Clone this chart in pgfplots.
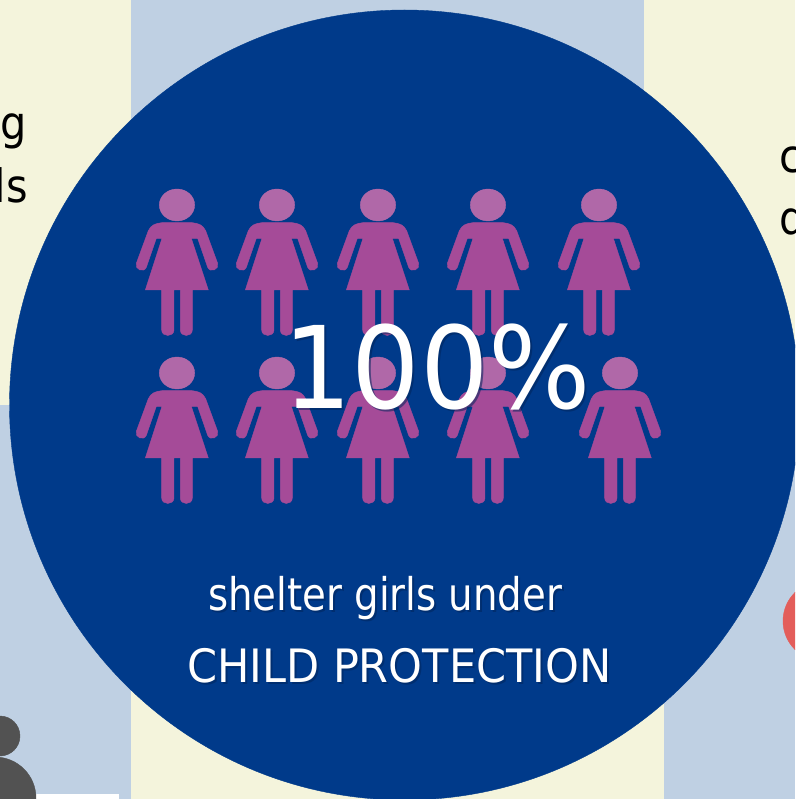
\documentclass[border=0pt]{standalone}
\usepackage{fontspec}
\usepackage{pgfplots}
\pgfplotsset{compat=1.18}
\setmainfont{DejaVu Sans Condensed}
\definecolor{bgcream}{HTML}{F4F4DC}
\definecolor{bgblue}{HTML}{BFD0E3}
\definecolor{disc}{HTML}{003A8A}
\definecolor{dress}{HTML}{A54B98}
\definecolor{headcol}{HTML}{B068A8}
\definecolor{shade}{HTML}{00255C}
\definecolor{redblob}{HTML}{E35D5A}
\definecolor{person}{HTML}{525252}

% girl icon, outline in px*3 measured from a zoomed crop, origin at the head
\pgfdeclareplotmark{girl}{%
  \pgftransformshift{\pgfqpoint{-56.67pt}{35pt}}%
  \begin{scope}[x=0.3333pt,y=-0.3333pt]
    \fill[headcol] (170,105) ellipse [x radius=53,y radius=48];
    \fill[dress] (125,158) .. controls (105,160) and (92,165) .. (84,182)
      -- (48,280) .. controls (42,298) and (70,310) .. (78,292)
      -- (108,205) -- (125,205) -- (75,360) -- (124,360) -- (124,480)
      .. controls (124,502) and (161,502) .. (161,480) -- (161,360)
      -- (180,360) -- (180,480) .. controls (180,502) and (216,502) .. (216,480)
      -- (216,360) -- (264,360) -- (213,205) -- (232,205) -- (262,292)
      .. controls (270,310) and (298,298) .. (292,280)
      -- (256,182) .. controls (248,165) and (235,160) .. (215,158) -- cycle;
  \end{scope}}

\newcommand{\shadowtext}[5]{% x, baseline y, font size, width scale, text
  \node[anchor=base west,inner sep=0pt,text=shade,opacity=0.55] at (axis cs:#1+2,#2+2) {\scalebox{#4}[1]{\fontsize{#3}{#3}\selectfont #5}};
  \node[anchor=base west,inner sep=0pt,text=white] at (axis cs:#1,#2) {\scalebox{#4}[1]{\fontsize{#3}{#3}\selectfont #5}};
}

\begin{document}
\begin{tikzpicture}
\path[use as bounding box,clip] (0,0) rectangle (795pt,799pt);
\begin{axis}[
    at={(0,0)},anchor=south west,
    width=795pt,height=799pt,scale only axis,
    xmin=0,xmax=795,ymin=0,ymax=799,y dir=reverse,
    hide axis,clip=false,
    after end axis/.code={
      \shadowtext{283}{408}{114}{1.05}{100\%}
      \shadowtext{208}{610}{45}{0.955}{shelter girls under}
      \shadowtext{187}{682}{46}{1.04}{CHILD PROTECTION}
      \node[anchor=base east,inner sep=0pt,text=black] at (axis cs:27,140) {\fontsize{46}{46}\selectfont g};
      \node[anchor=base east,inner sep=0pt,text=black] at (axis cs:28,203) {\fontsize{46}{46}\selectfont ds};
      \node[anchor=base west,inner sep=0pt,text=black] at (axis cs:779,173) {\fontsize{46}{46}\selectfont c};
      \node[anchor=base west,inner sep=0pt,text=black] at (axis cs:779,235) {\fontsize{46}{46}\selectfont d};
    },
  ]
  % background panels
  \addplot[draw=none,fill=bgcream] coordinates {(0,0)(131,0)(131,405)(0,405)} -- cycle;
  \addplot[draw=none,fill=bgblue] coordinates {(0,405)(131,405)(131,799)(0,799)} -- cycle;
  \addplot[draw=none,fill=bgblue] coordinates {(131,0)(644,0)(644,405)(131,405)} -- cycle;
  \addplot[draw=none,fill=bgcream] coordinates {(131,405)(664,405)(664,799)(131,799)} -- cycle;
  \addplot[draw=none,fill=bgcream] coordinates {(644,0)(795,0)(795,405)(644,405)} -- cycle;
  \addplot[draw=none,fill=bgblue] coordinates {(664,405)(795,405)(795,799)(664,799)} -- cycle;
  % neighbours cut off by the frame
  \addplot[only marks,mark=*,mark size=40pt,mark options={draw=redblob,fill=redblob}] coordinates {(823,621)};
  \addplot[only marks,mark=*,mark size=20pt,mark options={draw=person,fill=person}] coordinates {(0,736)};
  \addplot[only marks,mark=*,mark size=41pt,mark options={draw=person,fill=person}] coordinates {(-5,798)};
  \addplot[draw=none,fill=white] coordinates {(36,794)(119,794)(119,799)(36,799)} -- cycle;
  % main disc
  \addplot[only marks,mark=*,mark size=395pt,mark options={draw=disc,fill=disc}] coordinates {(404.5,405)};
  % ten girls
  \addplot[only marks,mark=girl] coordinates {
    (177,205) (277,205) (378,205) (488,205) (599,205)
    (177,373) (277,373) (378,373) (488,373) (620,373)
  };
\end{axis}
\end{tikzpicture}
\end{document}
